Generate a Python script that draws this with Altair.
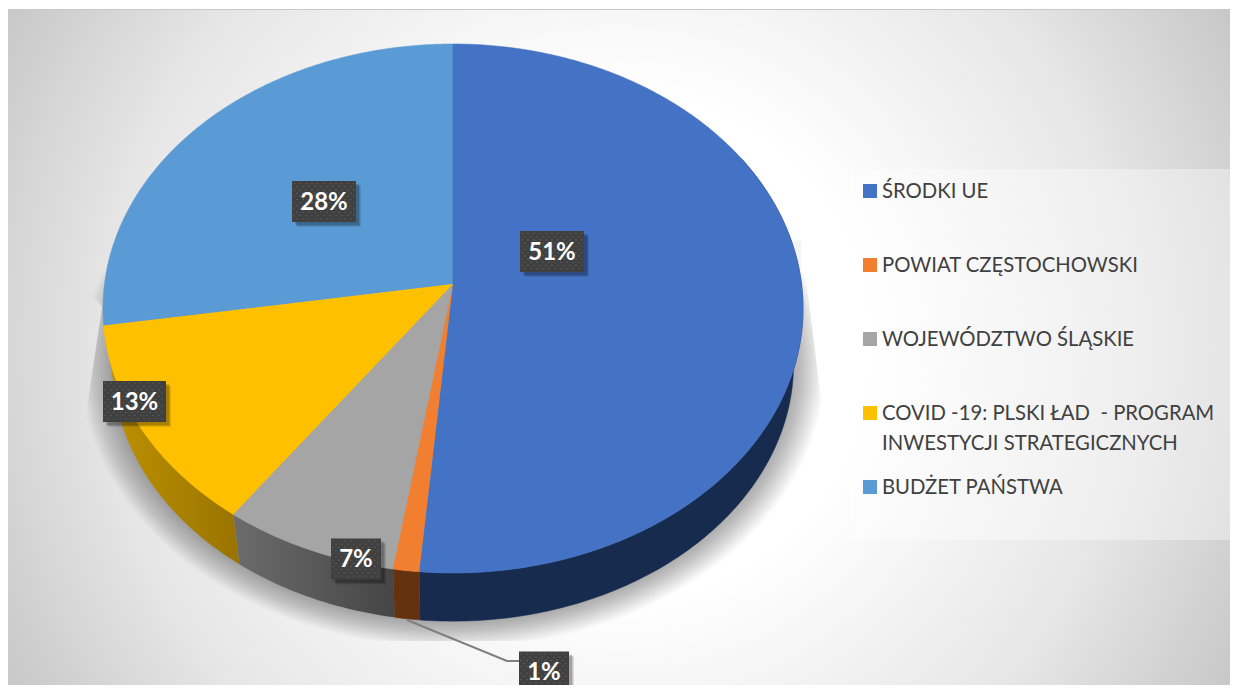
import math
import altair as alt
import pandas as pd

# ---- chart values ----
categories = ["ŚRODKI UE", "POWIAT CZĘSTOCHOWSKI", "WOJEWÓDZTWO ŚLĄSKIE",
              "COVID -19: PLSKI ŁAD \u00a0- PROGRAM\nINWESTYCJI STRATEGICZNYCH", "BUDŻET PAŃSTWA"]
shares = [51.4, 1.1, 7.4, 12.6, 27.5]
share_labels = ["51%", "1%", "7%", "13%", "28%"]
face_colors = ["#4472c4", "#f27f30", "#a5a5a5", "#ffc000", "#5b9bd5"]
label_x = [552, 544, 356, 134.5, 324]
label_y = [251.5, 672, 559, 401.5, 201.5]
label_w = [64, 50, 50, 63, 64]

# ---- geometry of the tilted pie ----
CX, AY = 453, 284            # apex of the top face
K, A, B = 0.0926, 262.2, 348.5
LOW_Y, LOW_S = 340, 0.973    # bottom rim
W, H = 1222, 677

xs = alt.Scale(domain=[8, 1230], range=[0, W])
ys = alt.Scale(domain=[8, 685], range=[0, H])
def X(f): return alt.X(f, type="quantitative", scale=xs, axis=None)
def Y(f): return alt.Y(f, type="quantitative", scale=ys, axis=None)

def rim(deg):
    t = math.radians(deg)
    w = 1 + K * math.cos(t)
    return CX + B * math.sin(t) / w, AY - A * math.cos(t) / w

def low(deg):
    x, y = rim(deg)
    return CX + LOW_S * (x - CX), LOW_Y + LOW_S * (y - AY)

def arange(a, b, step=1.0):
    n = max(2, int(abs(b - a) / step) + 1)
    return [a + (b - a) * i / (n - 1) for i in range(n)]

def poly(points, **mark):
    df = pd.DataFrame({"x": [p[0] for p in points], "y": [p[1] for p in points],
                       "i": range(len(points))})
    return alt.Chart(df).mark_line(point=False, **mark).encode(
        x=X("x"), y=Y("y"), order=alt.Order("i:Q"))

def box(x0, x1, y0, y1, **mark):
    df = pd.DataFrame({"x0": [x0], "x1": [x1], "y0": [y0], "y1": [y1]})
    return alt.Chart(df).mark_rect(**mark).encode(
        x=X("x0"), x2="x1", y=Y("y0"), y2="y1")

edges = [0.0]
for s in shares:
    edges.append(edges[-1] + s * 3.6)

layers = []

# page background
layers.append(box(8, 1230, 10, 685, fill={
    "gradient": "radial", "x1": 0.5, "y1": 0.5, "x2": 0.5, "y2": 0.5, "r1": 0, "r2": 0.6,
    "stops": [{"offset": 0, "color": "#ffffff"}, {"offset": 0.34, "color": "#ffffff"},
              {"offset": 0.7, "color": "#e6e6e6"}, {"offset": 1, "color": "#c2c2c2"}]}))
layers.append(box(8, 1230, 9, 10, fill="#c8c8c8"))

# soft shadow under the pie
def clamp(px, py):
    py = min(py, 641)
    if py > 300:
        px = max(px, 103 - (py - 300) * 0.15)
    if py > 230:
        px = min(px, 800 + (py - 230) * 0.125)
    return px, py

N_SHADOW = 22
for k in range(N_SHADOW):
    g = 1 + 0.0044 * k
    pts = []
    for d in arange(75, 285, 2):
        lx, ly = low(d)
        pts.append(clamp(CX + (lx - CX) * g, 345 + (ly - 345) * g + 1))
    if k >= N_SHADOW - 3:
        pts = [(801, 240)] + pts + [(104, 305)]
    layers.append(poly(pts, fill="#000000", fillOpacity=0.015, strokeWidth=0))

# side walls
def grad(c1, c2):
    return {"gradient": "linear", "x1": 0, "y1": 0, "x2": 1, "y2": 0,
            "stops": [{"offset": 0, "color": c1}, {"offset": 1, "color": c2}]}

side_fills = ["#172b4f", "#653210", grad("#6c6c6c", "#454545"), grad("#bf9300", "#997300"), None]
side_from = [60, None, None, None, None]
for i, fill in enumerate(side_fills):
    if fill is None:
        continue
    a = side_from[i] if side_from[i] is not None else edges[i]
    b = edges[i + 1]
    ds = arange(a, b, 1)
    pts = [rim(d) for d in ds] + [low(d) for d in reversed(ds)]
    stroke = fill if isinstance(fill, str) else "#666666"
    layers.append(poly(pts, fill=fill, stroke=stroke, strokeWidth=0 if not isinstance(fill, str) else 0.5))

# top faces
for i in [4, 3, 2, 1, 0]:
    pts = [(CX, AY)] + [rim(d) for d in arange(edges[i], edges[i + 1], 0.5)]
    layers.append(poly(pts, fill=face_colors[i], stroke=face_colors[i], strokeWidth=0.6))

# leader line for the 1% label
leader = pd.DataFrame({"x": [407, 507, 520], "y": [620, 661, 661], "i": [0, 1, 2]})
layers.append(alt.Chart(leader).mark_line(color="#7f7f7f", strokeWidth=2).encode(
    x=X("x"), y=Y("y"), order=alt.Order("i:Q")))

# data labels
dots = []
for cx, cy, w in zip(label_x, label_y, label_w):
    for off, op in [(5, 0.10), (4, 0.12), (3, 0.16)]:
        layers.append(box(cx - w / 2 + off, cx + w / 2 + off, cy - 20.5 + off, cy + 20.5 + off,
                          fill="#000000", fillOpacity=op))
    layers.append(box(cx - w / 2, cx + w / 2, cy - 20.5, cy + 20.5, fill="#404040"))
    py = cy - 18
    row = 0
    while py < cy + 20:
        px = cx - w / 2 + 2 + (3 if row % 2 else 0)
        while px < cx + w / 2 - 1:
            dots.append({"x": px, "y": py})
            px += 6
        py += 3.2
        row += 1
layers.append(alt.Chart(pd.DataFrame(dots)).mark_point(
    filled=True, size=2.5, color="#6a6a6a", opacity=0.7).encode(x=X("x"), y=Y("y")))
lab = pd.DataFrame({"x": label_x, "y": label_y, "t": share_labels})
layers.append(alt.Chart(lab).mark_text(
    font="Lato", fontWeight="bold", fontSize=24, color="#ffffff", baseline="middle", dy=1
).encode(x=X("x"), y=Y("y"), text="t:N"))

# legend
layers.append(box(850, 1230, 169, 540, fill="#ffffff", fillOpacity=0.36))
leg = pd.DataFrame({"name": categories, "c": face_colors,
                    "y": [191 + 74 * i for i in range(len(categories))],
                    "x": [870] * 5, "tx": [882] * 5})
layers.append(alt.Chart(leg).mark_square(size=196, opacity=1).encode(
    x=X("x"), y=Y("y"), color=alt.Color("c:N", scale=None)))
layers.append(alt.Chart(leg).mark_text(
    font="Lato", fontSize=20.3, color="#404040", align="left", baseline="top",
    lineBreak="\n", lineHeight=30, dy=-9
).encode(x=X("tx"), y=Y("y"), text="name:N"))

chart = alt.layer(*layers).properties(
    width=W, height=H, padding=0, autosize=alt.AutoSizeParams(type="none")
).configure_view(stroke=None)

chart.save("out.html", embed_options={"renderer": "svg", "actions": False})
